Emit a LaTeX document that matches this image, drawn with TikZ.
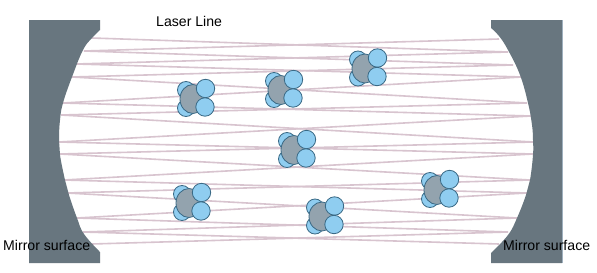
\documentclass[tikz,border=0pt]{standalone}
\usepackage{fontspec}
\setmainfont{Liberation Sans}
\definecolor{mirrorfill}{HTML}{68767F}
\definecolor{mirroredge}{HTML}{9FB0BE}
\definecolor{beam}{HTML}{D8C4CF}
\definecolor{atomfill}{HTML}{8FCDF0}
\definecolor{atomedge}{HTML}{3A6A86}
\definecolor{corefill}{HTML}{93A3AE}
\tikzset{
  x=1pt, y=-1pt,
  mirrorbody/.style={fill=mirrorfill, draw=none},
  beamline/.style={draw=beam, line width=1.6pt},
  atom/.style={fill=atomfill, draw=atomedge, line width=0.8pt},
  core/.style={fill=corefill, draw=atomedge, line width=0.8pt},
  caption/.style={inner sep=0pt, anchor=base west, font=\fontsize{14.1}{16}\selectfont},
  pics/molecule/.style={code={
    \draw[atom] (-7,-9) circle (8.5);
    \draw[atom] (-7,9) circle (8.5);
    \draw[core] (0,0) ellipse (13 and 14.5);
    \draw[atom] (12.5,-10.5) circle (9.2);
    \draw[atom] (12,8) circle (9.2);
  }}
}
\begin{document}
\begin{tikzpicture}
\useasboundingbox (0,0) rectangle (597,273);
\fill[white] (0,0) rectangle (597,273);

% Reflection points along both mirror faces
\foreach \i/\lx/\ly/\rx/\ry in {
  1/92/38/499/39, 2/84/51/508/52, 3/76/64/513/65, 4/72/77/522/77,
  5/63/103/527/103, 6/61/115/531/116, 7/59/142/533/142, 8/60/154/533/154,
  9/64/180/530/180, 10/67/193/527/193, 11/77/218/517/218,
  12/83/232/508/232, 13/92/244/499/244} {
  \coordinate (L\i) at (\lx,\ly);
  \coordinate (R\i) at (\rx,\ry);
}

% Beam zigzag between neighbouring reflection points
\foreach \i [evaluate=\i as \j using int(\i+1)] in {1,...,12} {
  \draw[beamline] (L\i) -- (R\j);
  \draw[beamline] (L\j) -- (R\i);
}

% Concave mirrors
\fill[mirrorbody] (29,20) -- (100,20) -- (100,30)
  -- plot[smooth, tension=0.7] coordinates {(100,30) (92,38) (83,50) (72,77) (63,103) (60,120) (59,140) (60,155) (65,180) (69,195) (77,218) (84,234) (100,252)}
  -- (100,263) -- (29,263) -- cycle;
\fill[mirrorbody] (562,20) -- (491,20) -- (491,28)
  -- plot[smooth, tension=0.7] coordinates {(491,28) (499,36) (508,50) (520,75) (528,103) (532,125) (533,140) (533,155) (530,180) (526,195) (517,218) (508,235) (491,253)}
  -- (491,263) -- (562,263) -- cycle;
\draw[mirroredge, line width=1pt] (562,20) -- (562,263);

% Gas molecules
\foreach \name/\mx/\my in {a/193/99, b/281/90, c/365/68.5, d/294/150, e/189/203, f/322/216.5, g/437/190}
  \pic (\name) at (\mx,\my) {molecule};

% Labels
\node[caption] (laser) at (156,26) {Laser Line};
\node[caption] (mirrorleft) at (3,250) {Mirror surface};
\node[caption] (mirrorright) at (503,250) {Mirror surface};
\end{tikzpicture}
\end{document}
